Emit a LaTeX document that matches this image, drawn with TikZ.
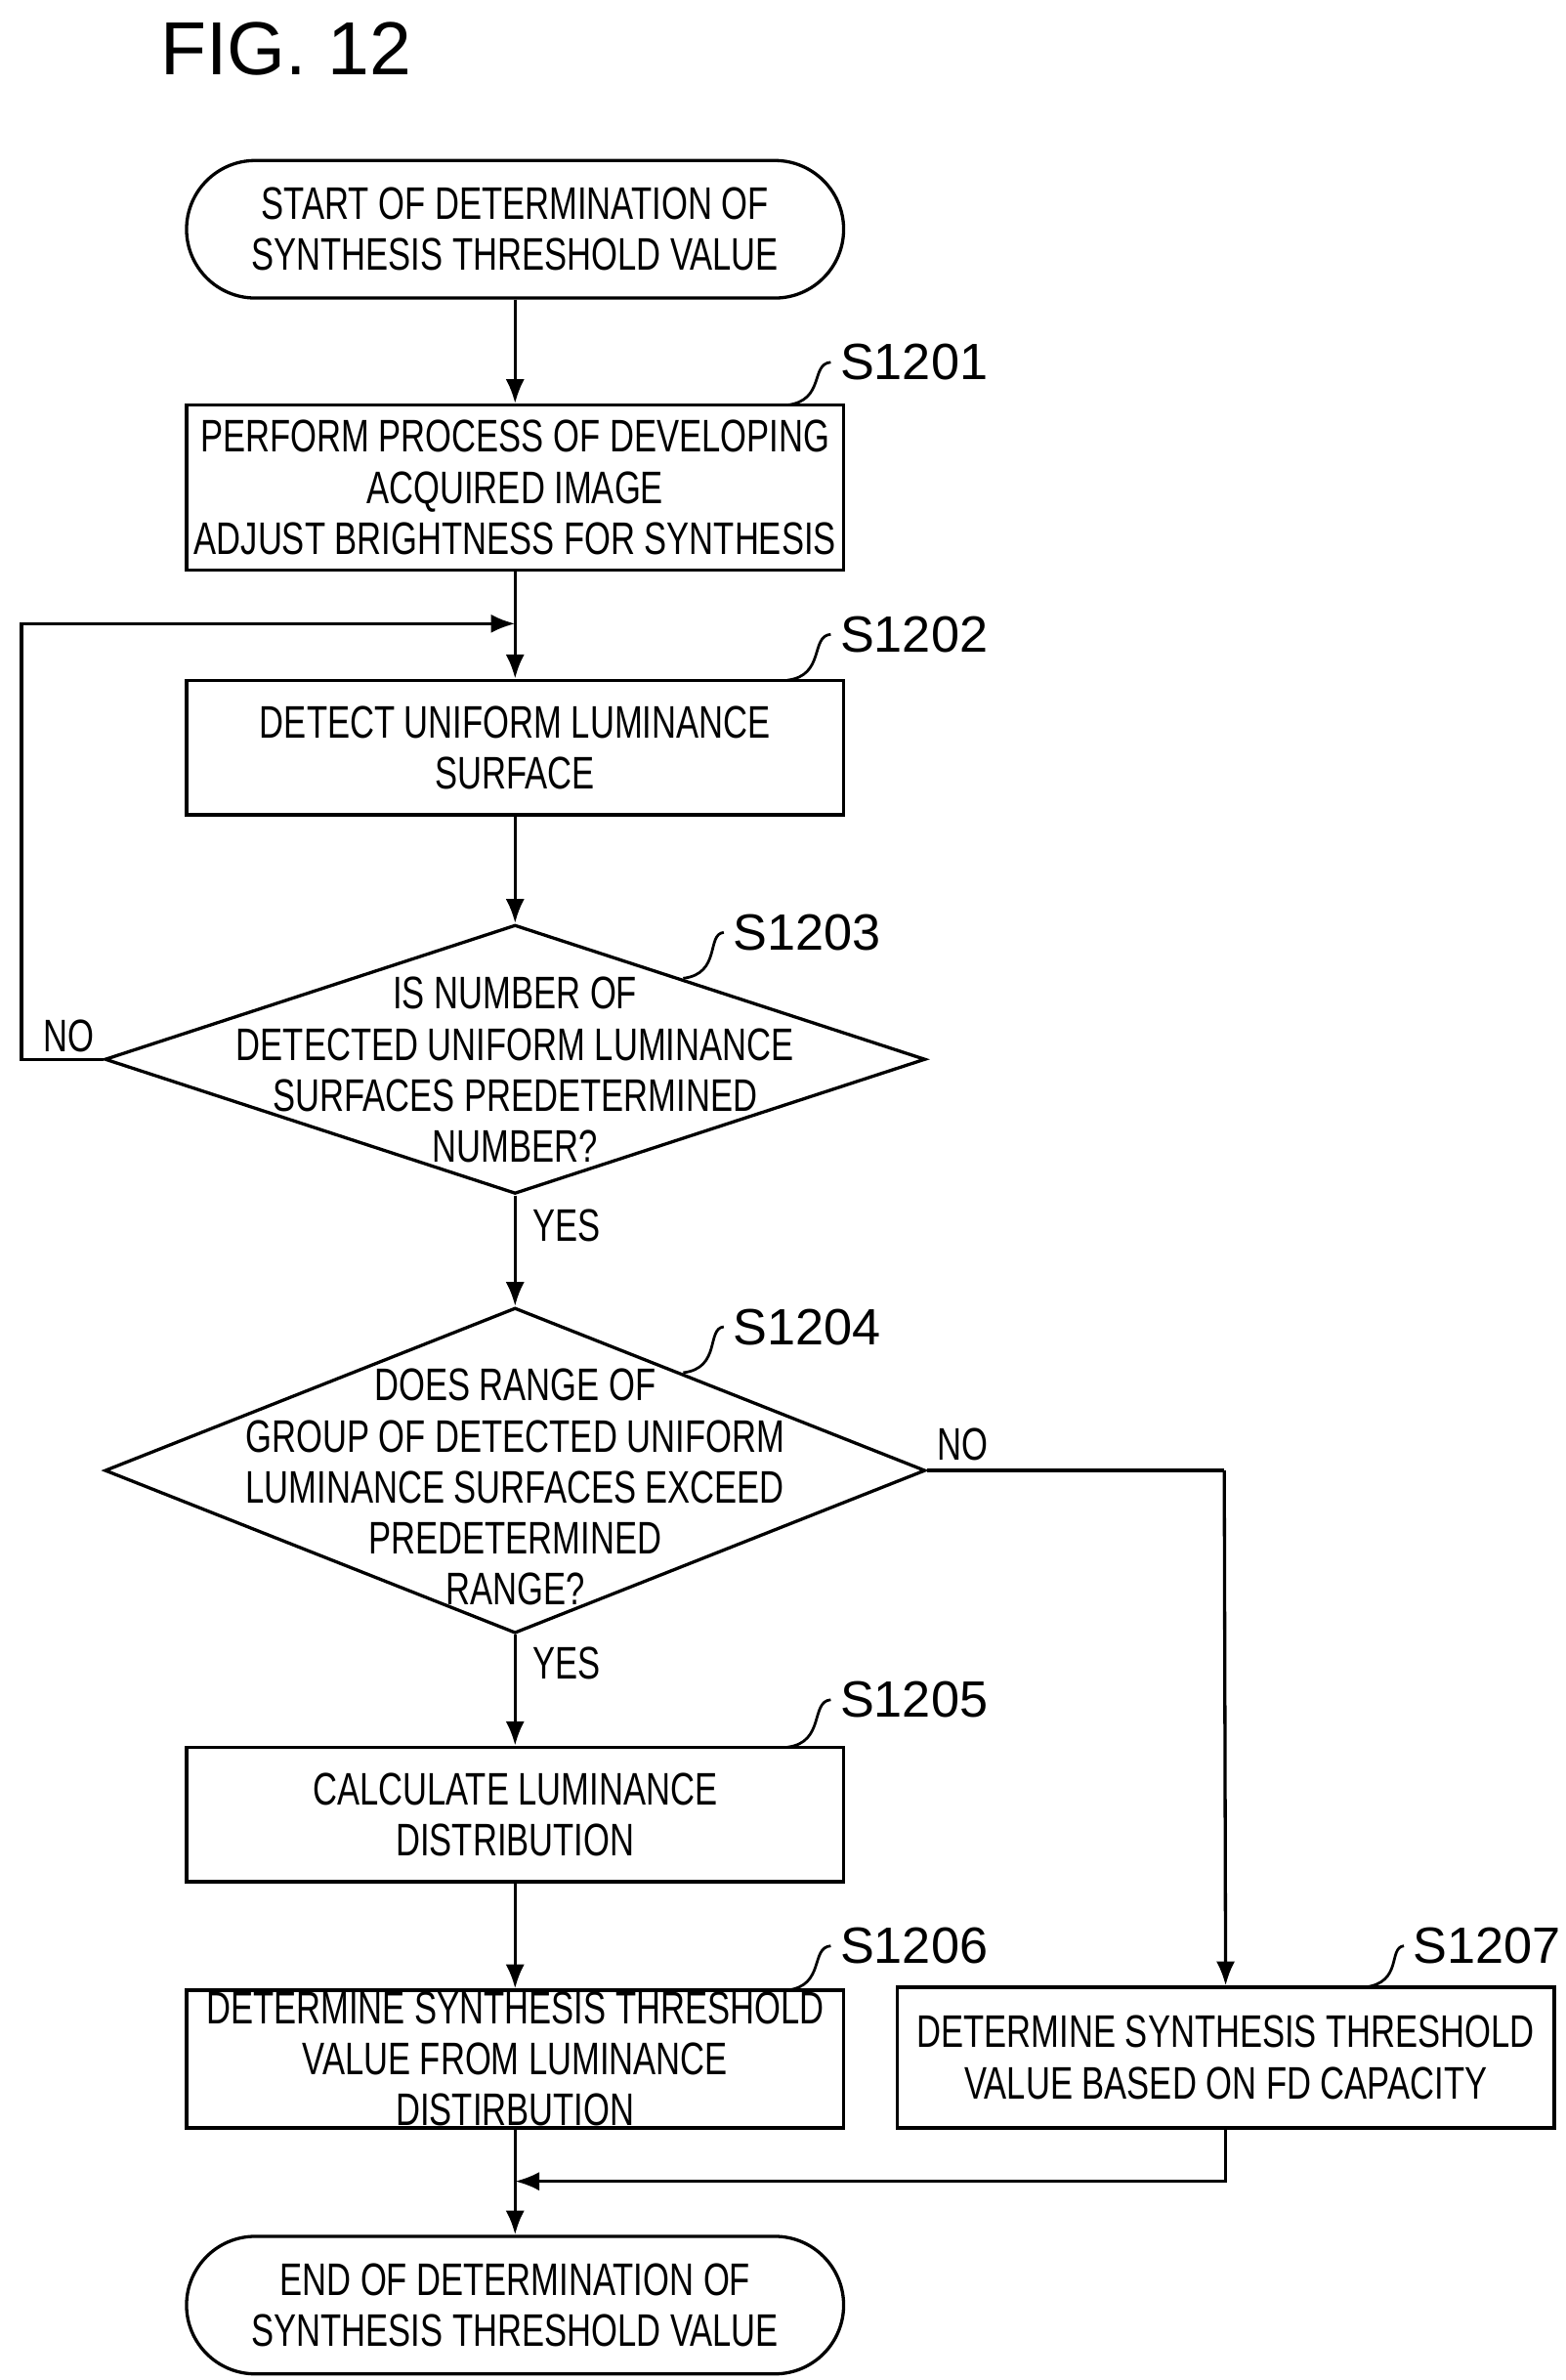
\documentclass[tikz,border=0pt]{standalone}
\usepackage{fontspec}
\setmainfont{Liberation Sans}[FakeStretch=0.74]
\newfontfamily\lblfont{Liberation Sans}
\usetikzlibrary{shapes.geometric,arrows.meta}
\begin{document}
\begin{tikzpicture}[x=0.02cm,y=-0.02cm,
  every node/.style={font=\fontsize{17}{19}\selectfont, align=center},
  box/.style={draw, line width=1.2pt, minimum width=8.6cm, minimum height=1.76cm, inner sep=0},
  term/.style={box, rounded corners=0.9cm, minimum height=1.8cm},
  dia/.style={draw, line width=1.2pt, diamond, aspect=3.05, minimum width=10.74cm, minimum height=3.52cm, inner sep=0},
  lbl/.style={font=\lblfont\fontsize{19}{21}\selectfont},
  arr/.style={line width=1.2pt, -{Latex[length=9pt,width=7pt]}},
  ln/.style={line width=1.2pt},
  lc/.style={line width=1pt}]
\useasboundingbox (0,0) rectangle (1024,1557);
\node[font=\lblfont\fontsize{28}{30}\selectfont] (fig) at (187,32) {FIG. 12};
\node[term] (st) at (337,150) {START OF DETERMINATION OF\\SYNTHESIS THRESHOLD VALUE};
\node[box, minimum height=2.16cm] (s1) at (337,319) {PERFORM PROCESS OF DEVELOPING\\ACQUIRED IMAGE\\ADJUST BRIGHTNESS FOR SYNTHESIS};
\node[box] (s2) at (337,489) {DETECT UNIFORM LUMINANCE\\SURFACE};
\node[dia] (s3) at (337,693) {};
\node at (337,700) {IS NUMBER OF\\DETECTED UNIFORM LUMINANCE\\SURFACES PREDETERMINED\\NUMBER?};
\node[dia, minimum height=4.26cm, aspect=2.52] (s4) at (337,962) {};
\node at (337,973) {DOES RANGE OF\\GROUP OF DETECTED UNIFORM\\LUMINANCE SURFACES EXCEED\\PREDETERMINED\\RANGE?};
\node[box] (s5) at (337,1187) {CALCULATE LUMINANCE\\DISTRIBUTION};
\node[box, minimum height=1.8cm] (s6) at (337,1347) {DETERMINE SYNTHESIS THRESHOLD\\VALUE FROM LUMINANCE\\DISTIRBUTION};
\node[box, minimum height=1.84cm] (s7) at (802,1346) {DETERMINE SYNTHESIS THRESHOLD\\VALUE BASED ON FD CAPACITY};
\node[term] (en) at (337,1508) {END OF DETERMINATION OF\\SYNTHESIS THRESHOLD VALUE};
\coordinate (j1) at (337,408);
\coordinate (j2) at (337,1427);
\coordinate (lft) at (14,693);
\coordinate (rgt) at (801,962);
\draw[arr] (st) -- (s1);
\draw[arr] (s1) -- (s2);
\draw[arr] (s3.west) -- (lft) |- (j1);
\draw[arr] (s2) -- (s3);
\draw[arr] (s3) -- (s4);
\draw[arr] (s4) -- (s5);
\draw[arr] (s5) -- (s6);
\draw[ln] (s4.east) -- (rgt);
\draw[arr] (rgt) -- (s7);
\draw[arr] (s6) -- (en);
\draw[arr] (s7.south) |- (j2);
\node (no1) at (45,678) {NO};
\node (ye1) at (371,802) {YES};
\node (no2) at (630,945) {NO};
\node (ye2) at (371,1088) {YES};
\node[lbl] (l1) at (598,237) {S1201};
\node[lbl] (l2) at (598,415) {S1202};
\node[lbl] (l3) at (528,610) {S1203};
\node[lbl] (l4) at (528,868) {S1204};
\node[lbl] (l5) at (598,1112) {S1205};
\node[lbl] (l6) at (598,1273) {S1206};
\node[lbl] (l7) at (973,1273) {S1207};
\draw[lc] (515,265) .. controls (540,262) and (530,238) .. (l1.west);
\draw[lc] (515,445) .. controls (540,442) and (530,416) .. (l2.west);
\draw[lc] (447,640) .. controls (472,637) and (462,611) .. (l3.west);
\draw[lc] (447,898) .. controls (472,895) and (462,869) .. (l4.west);
\draw[lc] (515,1143) .. controls (540,1140) and (530,1113) .. (l5.west);
\draw[lc] (515,1302) .. controls (540,1299) and (530,1274) .. (l6.west);
\draw[lc] (893,1300) .. controls (918,1297) and (908,1274) .. (l7.west);
\end{tikzpicture}
\end{document}
